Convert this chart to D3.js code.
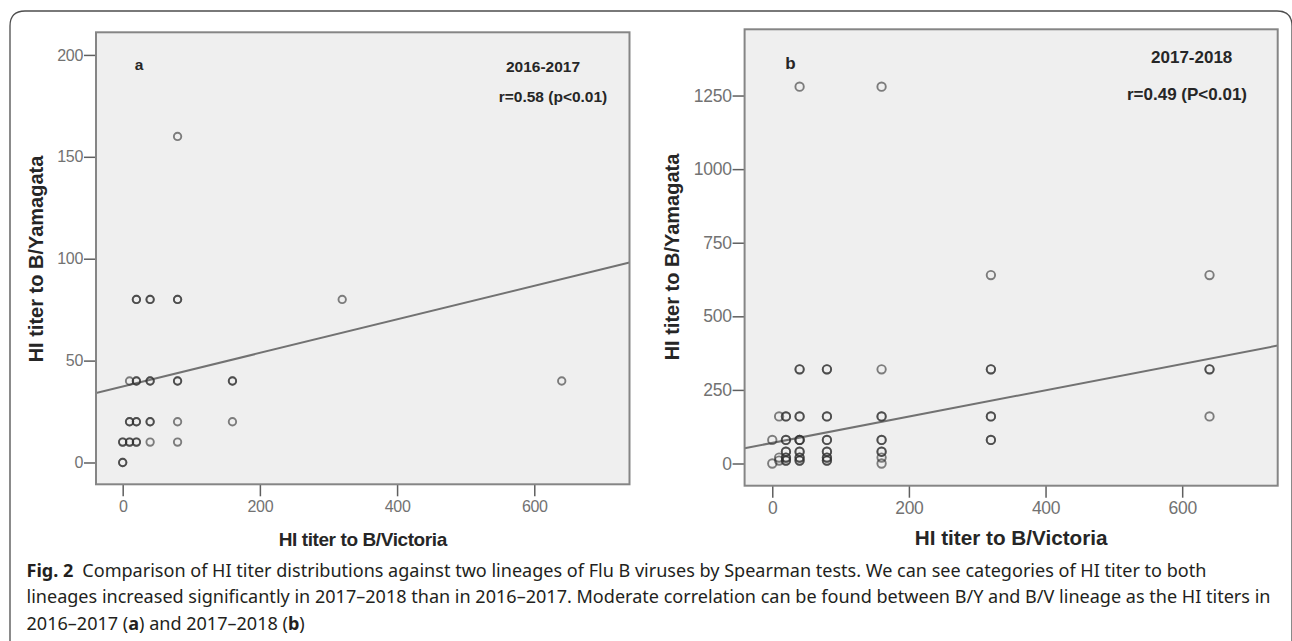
<!DOCTYPE html>
<html>
<head>
<meta charset="utf-8">
<script src="https://cdn.jsdelivr.net/npm/d3@7"></script>
<style>
	html, body { margin: 0; padding: 0; background: #fff; }
	svg { display: block; }
</style>
</head>
<body>
<div id="chart"></div>
<script>
// tick values
const victoriaTicks = [0, 200, 400, 600];
const yamagataTicksA = [0, 50, 100, 150, 200];
const yamagataTicksB = [0, 250, 500, 750, 1000, 1250];

// [HI titer B/Victoria, HI titer B/Yamagata, overlapping subjects]
const pointsA = [
	[0, 0, 2], [0, 10, 2], [10, 10, 2], [20, 10, 2], [40, 10, 1], [80, 10, 1],
	[10, 20, 2], [20, 20, 2], [40, 20, 2], [80, 20, 1], [160, 20, 1],
	[10, 40, 1], [20, 40, 2], [40, 40, 2], [80, 40, 2], [160, 40, 2], [640, 40, 1],
	[20, 80, 2], [40, 80, 2], [80, 80, 2], [320, 80, 1],
	[80, 160, 1]
];
const pointsB = [
	[0, 0, 1], [0, 80, 1],
	[10, 10, 1], [10, 20, 1], [10, 160, 1],
	[20, 10, 2], [20, 20, 2], [20, 40, 2], [20, 80, 2], [20, 160, 2],
	[40, 10, 2], [40, 20, 2], [40, 40, 2], [40, 80, 3], [40, 160, 2], [40, 320, 2], [40, 1280, 1],
	[80, 10, 2], [80, 20, 2], [80, 40, 2], [80, 80, 2], [80, 160, 2], [80, 320, 2],
	[160, 0, 1], [160, 20, 1], [160, 40, 2], [160, 80, 2], [160, 160, 2], [160, 320, 1], [160, 1280, 1],
	[320, 80, 2], [320, 160, 2], [320, 320, 2], [320, 640, 1],
	[640, 160, 1], [640, 320, 2], [640, 640, 1]
];

// fitted line [intercept, slope]
const fitA = [37.3, 0.0824];
const fitB = [70, 0.447];

const labelsA = ['a', '2016-2017', 'r=0.58 (p<0.01)'];
const labelsB = ['b', '2017-2018', 'r=0.49 (P<0.01)'];
const xTitle = 'HI titer to B/Victoria';
const yTitle = 'HI titer to B/Yamagata';

const captionLines = [
	[['Fig. 2', true], ['\u2002Comparison of HI titer distributions against two lineages of Flu B viruses by Spearman tests. We can see categories of HI titer to both', false]],
	[['lineages increased significantly in 2017\u20132018 than in 2016\u20132017. Moderate correlation can be found between B/Y and B/V lineage as the HI titers in', false]],
	[['2016\u20132017 (', false], ['a', true], [') and 2017\u20132018 (', false], ['b', true], [')', false]]
];

const width = 1292;
const height = 641;

const svg = d3
	.select('#chart')
	.append('svg')
	.attr('width', width)
	.attr('height', height);

// figure box
svg
	.append('path')
	.attr('d', 'M10,641 V26 Q10,11 25,11 H1277 Q1292,11 1292,26 V641')
	.attr('fill', 'none')
	.attr('stroke', '#4d4d4d')
	.attr('stroke-width', 1.3);

const drawPanel = (cfg) => {
	const { box, xDomain, yDomain, yTicks, points, fit, labels, font, radius } = cfg;

	const x = d3.scaleLinear().domain(xDomain).range([box.left, box.right]);
	const y = d3.scaleLinear().domain(yDomain).range([box.bottom, box.top]);

	const g = svg.append('g');
	const clipId = 'clip-' + labels[0];

	g.append('clipPath')
		.attr('id', clipId)
		.append('rect')
		.attr('x', box.left)
		.attr('y', box.top)
		.attr('width', box.right - box.left)
		.attr('height', box.bottom - box.top);

	g.append('rect')
		.attr('x', box.left)
		.attr('y', box.top)
		.attr('width', box.right - box.left)
		.attr('height', box.bottom - box.top)
		.attr('fill', '#efefef');

	const yAxis = d3
		.axisLeft(y)
		.tickValues(yTicks)
		.tickFormat(d3.format('d'))
		.tickSize(12)
		.tickPadding(1);
	const xAxis = d3
		.axisBottom(x)
		.tickValues(victoriaTicks)
		.tickFormat(d3.format('d'))
		.tickSize(12)
		.tickPadding(4);

	const styleAxis = (sel) => {
		sel.select('.domain').remove();
		sel.selectAll('line').attr('stroke', '#5f5f5f').attr('stroke-width', 1.5);
		sel.selectAll('text')
			.attr('fill', '#727272')
			.style('font-family', 'Liberation Sans, Arial, sans-serif')
			.style('font-size', font.tick + 'px')
			.style('letter-spacing', '-0.3px');
	};

	g.append('g')
		.attr('transform', `translate(${box.left},0)`)
		.call(yAxis)
		.call(styleAxis);

	g.append('g')
		.attr('transform', `translate(0,${box.bottom})`)
		.call(xAxis)
		.call(styleAxis);

	// fit line
	const line = d3
		.line()
		.x((d) => x(d))
		.y((d) => y(fit[0] + fit[1] * d));

	g.append('path')
		.datum(xDomain)
		.attr('clip-path', `url(#${clipId})`)
		.attr('fill', 'none')
		.attr('stroke', '#727272')
		.attr('stroke-width', 2)
		.attr('d', line);

	// one circle per subject, overlaps get darker
	const expanded = points.flatMap((p) => d3.range(p[2]).map(() => p));

	g.selectAll('.pt')
		.data(expanded)
		.enter()
		.append('circle')
		.attr('class', 'pt')
		.attr('cx', (d) => x(d[0]))
		.attr('cy', (d) => y(d[1]))
		.attr('r', radius)
		.attr('fill', 'none')
		.attr('stroke', '#2e2e2e')
		.attr('stroke-opacity', 0.6)
		.attr('stroke-width', 1.9);

	g.append('rect')
		.attr('x', box.left)
		.attr('y', box.top)
		.attr('width', box.right - box.left)
		.attr('height', box.bottom - box.top)
		.attr('fill', 'none')
		.attr('stroke', '#858585')
		.attr('stroke-width', 2);

	const bold = (sel, size) =>
		sel
			.attr('fill', '#262626')
			.attr('text-anchor', 'middle')
			.style('font-family', 'Liberation Sans, Arial, sans-serif')
			.style('font-weight', 'bold')
			.style('font-size', size + 'px');

	g.append('text').attr('x', cfg.letterPos[0]).attr('y', cfg.letterPos[1]).text(labels[0]).call(bold, font.note);
	g.append('text').attr('x', cfg.seasonPos[0]).attr('y', cfg.seasonPos[1]).text(labels[1]).call(bold, font.note);
	g.append('text').attr('x', cfg.rPos[0]).attr('y', cfg.rPos[1]).text(labels[2]).call(bold, font.note);

	g.append('text')
		.attr('x', (box.left + box.right) / 2 + cfg.xTitleShift)
		.attr('y', cfg.xTitleY)
		.text(xTitle)
		.call(bold, font.xTitle)
		.style('letter-spacing', cfg.xTitleSpacing + 'px');

	g.append('text')
		.attr('transform', `translate(${cfg.yTitlePos[0]},${cfg.yTitlePos[1]}) rotate(-90)`)
		.text(yTitle)
		.call(bold, font.yTitle);
};

drawPanel({
	box: { left: 96, right: 629.5, top: 32.3, bottom: 484.3 },
	xDomain: [-38.9, 738.8],
	yDomain: [-10.7, 211.1],
	yTicks: yamagataTicksA,
	points: pointsA,
	fit: fitA,
	labels: labelsA,
	font: { tick: 16, note: 15.5, xTitle: 19, yTitle: 20 },
	radius: 3.7,
	letterPos: [139, 69.5],
	seasonPos: [543, 71.5],
	rPos: [553, 101.5],
	xTitleShift: 0,
	xTitleY: 546,
	xTitleSpacing: -0.4,
	yTitlePos: [42.5, 259]
});

drawPanel({
	box: { left: 744.6, right: 1277.7, top: 29.3, bottom: 485.7 },
	xDomain: [-40.5, 739.8],
	yDomain: [-75.4, 1475],
	yTicks: yamagataTicksB,
	points: pointsB,
	fit: fitB,
	labels: labelsB,
	font: { tick: 17.5, note: 17, xTitle: 20.7, yTitle: 20 },
	radius: 4.2,
	letterPos: [790.5, 68.5],
	seasonPos: [1191.7, 62.8],
	rPos: [1187, 100],
	xTitleShift: 0,
	xTitleY: 545,
	xTitleSpacing: 0,
	yTitlePos: [679, 257]
});

// caption
const captionBaselines = [576.7, 603.2, 629.7];
const captionTexts = captionLines.map((segments, i) => {
	const t = svg
		.append('text')
		.attr('transform', `translate(26.5,${captionBaselines[i]})`)
		.attr('fill', '#231f20')
		.style('font-family', 'Noto Sans, Open Sans, sans-serif')
		.style('font-size', '18px');
	segments.forEach(([str, isBold]) => {
		t.append('tspan')
			.style('font-weight', isBold ? 'bold' : 'normal')
			.text(str);
	});
	return t;
});

const fitScale = 1245 / captionTexts[1].node().getComputedTextLength();
captionTexts.forEach((t, i) =>
	t.attr('transform', `translate(26.5,${captionBaselines[i]}) scale(${fitScale},1)`)
);
</script>
</body>
</html>
